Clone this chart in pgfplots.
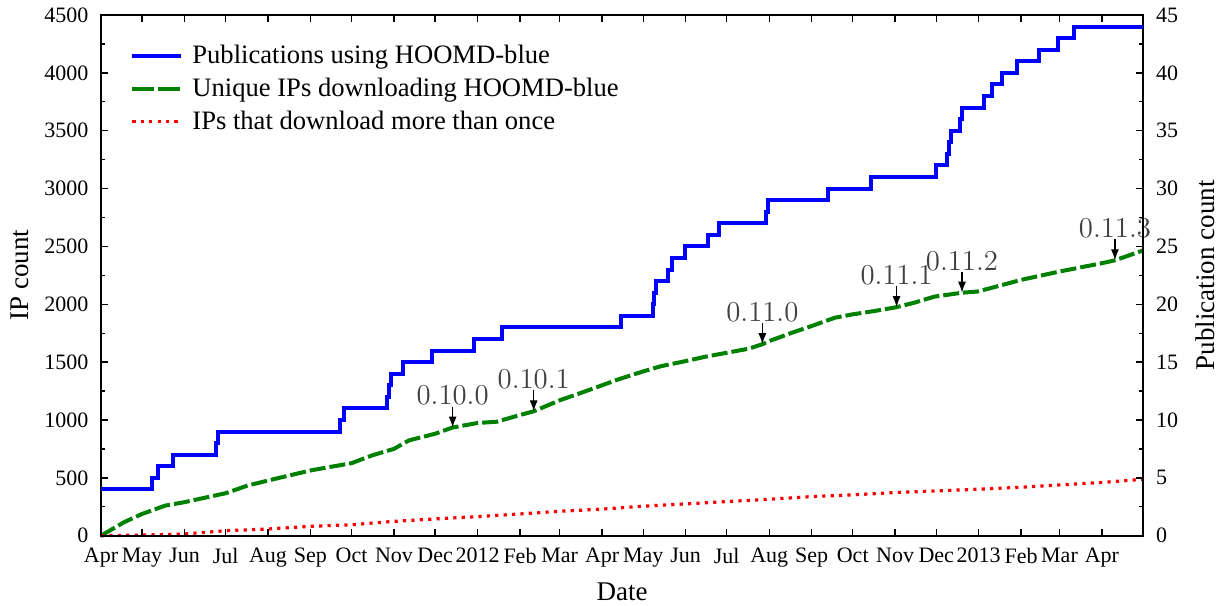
\documentclass[border=0pt]{standalone}
\usepackage{pgfplots}
\pgfplotsset{compat=1.18}
\usepackage{fontspec}
\setmainfont{Liberation Serif}
\usetikzlibrary{arrows.meta}
\definecolor{pubblue}{RGB}{0,0,255}
\definecolor{ipgreen}{RGB}{0,128,0}
\definecolor{ipred}{RGB}{255,0,0}

\pgfplotstableread{
d ip
0 0
16.6 115
30 188
46.9 260
61 290
91 367
107 433
122 477
153 564
183 627
198 694
214 751
225 824
244 881
256.8 935
275 974
289 985
305 1040
316 1075
335 1170
349 1228
366 1300
377.5 1350
396 1420
409 1465
427 1509
441 1546
457 1581
473 1616
483 1655
488 1682
504.6 1754
519 1812
536 1884
549 1913
565 1942
581 1975
594 2014
608.6 2066
628.8 2100
640 2110
652 2147
672 2211
700 2283
731 2355
740.5 2380
761 2465
}\uniqueips

\pgfplotstableread{
d ip
0 0
30 5
61 15
91 43
122 58
153 81
183 95
214 124
244 145
275 165
306 188
335 211
366 230
396 255
427 275
457 295
488 315
519 338
549 353
580 373
610 387
641 402
672 419
700 439
731 460
761 488
}\repeatips

\pgfplotstableread{
d pubs
0 4
36.9 5
41.4 6
52.9 7
83.7 8
85.2 9
174.4 10
177.8 11
209.2 12
210.4 13
211.6 14
220.7 15
241.8 16
272.7 17
293.2 18
379.5 19
403 20
404 21
405 22
414 23
417 24
426.5 25
443.4 26
451.2 27
485.8 28
487.3 29
530.6 30
562.4 31
610 32
617.8 33
619.5 34
621 35
627.3 36
628.8 37
644.7 38
650.4 39
657.7 40
668.6 41
685.1 42
698.7 43
710.5 44
761 44
}\pubs

\pgfplotsset{
  common/.style={
    scale only axis, width=521pt, height=260.35pt,
    xmin=0, xmax=761,
    tick label style={font=\fontsize{11}{13}\selectfont},
    label style={font=\fontsize{13.5}{16}\selectfont},
    /pgf/number format/assume math mode=true,
    /pgf/number format/1000 sep={},
    major tick length=3.5pt, minor tick length=2pt,
    tick style={black, line width=0.7pt},
    axis line style={line width=0.8pt},
    tick align=inside,
    scaled y ticks=false,
  },
}
\tikzset{
  annot/.style={-{Latex[length=5.5pt,width=4pt]}, line width=0.6pt, black},
  annotnode/.style={above, inner sep=0.5pt, text=black!75, font=\fontsize{13.5}{16}\selectfont},
}

\begin{document}
\begin{tikzpicture}
\begin{axis}[common,
  clip=false,
  ymin=0, ymax=4500, ytick={0,500,...,4500}, minor y tick num=1,
  ytick pos=left,
  xtick={0,30,61,91,122,153,183,214,244,275,306,335,366,396,427,457,488,519,549,580,610,641,672,700,731},
  xticklabels={Apr,May,Jun,Jul,Aug,Sep,Oct,Nov,Dec,2012,Feb,Mar,Apr,May,Jun,Jul,Aug,Sep,Oct,Nov,Dec,2013,Feb,Mar,Apr},
  xtick pos=both,
  ylabel={IP count}, xlabel={Date},
  ylabel style={at={(axis description cs:-0.0777,0.5)}, anchor=center},
  xlabel style={at={(axis description cs:0.5,-0.108)}, anchor=center},
  yticklabel style={xshift=-2.8pt},
  xticklabel style={yshift=-2.5pt},
]
\addplot[ipgreen, line width=2pt, dash pattern=on 8pt off 2pt] table[x=d,y=ip] {\uniqueips};
\addplot[ipred, line width=1.6pt, dash pattern=on 1.6pt off 2.6pt] table[x=d,y=ip] {\repeatips};
\draw[annot] (256.8,935) ++(0,10.5pt) node[annotnode]{$0.10.0$} -- (256.8,935);
\draw[annot] (316,1075) ++(0,10.5pt) node[annotnode]{$0.10.1$} -- (316,1075);
\draw[annot] (483,1655) ++(0,10.5pt) node[annotnode]{$0.11.0$} -- (483,1655);
\draw[annot] (581,1975) ++(0,10.5pt) node[annotnode]{$0.11.1$} -- (581,1975);
\draw[annot] (628.8,2100) ++(0,10.5pt) node[annotnode]{$0.11.2$} -- (628.8,2100);
\draw[annot] (740.5,2380) ++(0,10.5pt) node[annotnode]{$0.11.3$} -- (740.5,2380);
\end{axis}
\begin{axis}[common,
  ymin=0, ymax=45, ytick={0,5,...,45}, minor y tick num=1,
  ytick pos=right, yticklabel pos=right,
  xtick=\empty,
  ylabel={Publication count},
  ylabel style={at={(axis description cs:1.0595,0.5)}, anchor=center, rotate=0},
  yticklabel style={xshift=3pt},
  legend cell align=left,
  legend image code/.code={\draw[#1] (0pt,0pt) -- (24.5pt,0pt);},
  legend style={at={(axis description cs:0,1)}, anchor=north west, xshift=14.5pt, yshift=-13.5pt,
    draw=none, fill=none, inner sep=0pt, row sep=2.6pt,
    font=\fontsize{13.3}{16}\selectfont,
    nodes={inner sep=1.5pt},
    /tikz/every odd column/.append style={column sep=3pt}},
]
\addplot[pubblue, line width=2pt, const plot] table[x=d,y=pubs] {\pubs};
\addlegendentry{Publications using HOOMD-blue}
\addlegendimage{ipgreen, line width=2pt, dash pattern=on 11pt off 2pt}
\addlegendentry{Unique IPs downloading HOOMD-blue}
\addlegendimage{ipred, line width=1.6pt, dash pattern=on 1.6pt off 2.6pt}
\addlegendentry{IPs that download more than once}
\end{axis}
\pgfresetboundingbox
\path[use as bounding box] (-50.5pt,-34.65pt) rectangle (558.5pt,267.85pt);
\end{tikzpicture}
\end{document}
